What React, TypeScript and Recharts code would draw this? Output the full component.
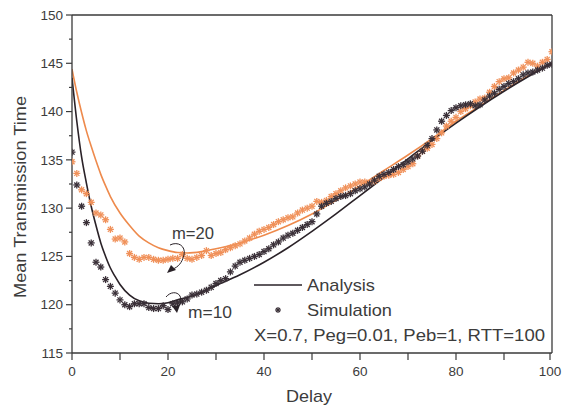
import React from 'react';
import { ComposedChart, Line, Scatter, XAxis, YAxis, ReferenceLine } from 'recharts';

if (typeof document !== 'undefined') {
  document.body.style.margin = '0';
}

// Analysis curves
const analysisDelays10 = [0, 1, 2, 3, 4, 5, 6, 7, 8, 9, 10, 12, 14, 16, 18, 20, 22, 25, 30, 35, 40, 45, 50, 55, 60, 65, 70, 75, 80, 85, 90, 95, 100];
const analysisM10 = [143.5, 139.0, 135.3, 132.6, 130.2, 128.2, 126.4, 125.0, 123.8, 122.9, 122.1, 121.0, 120.4, 120.15, 120.1, 120.2, 120.5, 120.9, 122.0, 123.1, 124.4, 125.9, 127.6, 129.4, 131.3, 133.2, 135.1, 137.0, 138.8, 140.5, 142.1, 143.6, 145.0];

const analysisDelays20 = [0, 1, 2, 3, 4, 5, 6, 7, 8, 10, 12, 14, 16, 18, 20, 22, 24, 27, 30, 35, 40, 45, 50, 55, 60, 65, 70, 75, 80, 85, 90, 95, 100];
const analysisM20 = [144.4, 142.0, 139.9, 138.0, 136.4, 134.9, 133.5, 132.3, 131.2, 129.5, 128.2, 127.1, 126.4, 125.9, 125.6, 125.4, 125.35, 125.5, 125.8, 126.4, 127.2, 128.2, 129.4, 130.8, 132.3, 133.9, 135.5, 137.2, 139.0, 140.6, 142.2, 143.7, 145.0];

// Simulation, one value per delay 0..100
const simDelays = Array.from({ length: 101 }, (_, i) => i);
const simM10 = [
  135.8, 132.4, 130.2, 128.5, 126.4, 124.4, 123.9, 122.6, 121.9, 121.2,
  120.5, 120.0, 119.8, 120.1, 120.1, 120.1, 119.7, 119.6, 119.6, 119.9,
  119.5, 120.1, 120.2, 120.3, 120.6, 121.0, 121.1, 121.3, 121.5, 121.8,
  122.2, 122.5, 122.7, 123.4, 124.0, 124.4, 124.6, 124.8, 125.0, 125.2,
  125.5, 125.8, 126.2, 126.5, 126.9, 127.2, 127.4, 127.7, 128.0, 128.3,
  128.6, 129.4, 130.2, 130.5, 130.7, 131.0, 131.2, 131.3, 131.5, 131.8,
  132.0, 132.2, 132.5, 132.9, 133.3, 133.5, 133.7, 134.0, 134.3, 134.5,
  134.8, 135.1, 135.4, 135.9, 136.5, 137.2, 138.1, 139.0, 139.6, 140.1,
  140.4, 140.6, 140.7, 140.8, 140.6, 140.7, 141.2, 141.6, 141.9, 142.3,
  142.6, 142.9, 143.1, 143.4, 143.8, 144.0, 144.1, 144.3, 144.5, 144.8,
  144.9,
];
const simM20 = [
  134.8, 133.6, 131.9, 131.5, 130.6, 129.5, 129.3, 128.8, 127.8, 126.8,
  126.9, 126.5, 125.3, 124.9, 124.7, 124.9, 124.9, 124.7, 124.6, 124.6,
  124.7, 124.8, 124.8, 125.2, 124.8, 124.7, 124.9, 125.1, 125.6, 125.1,
  125.3, 125.4, 125.7, 125.9, 126.1, 126.3, 126.6, 126.9, 127.3, 127.6,
  127.8, 128.0, 128.3, 128.6, 128.8, 129.0, 129.1, 129.5, 129.8, 130.0,
  130.2, 130.7, 130.6, 130.8, 131.2, 131.5, 131.8, 132.1, 132.3, 132.5,
  132.7, 132.7, 132.6, 132.8, 133.1, 133.3, 133.4, 133.5, 133.7, 134.0,
  134.3, 134.6, 135.4, 135.9, 136.2, 136.6, 137.2, 137.8, 138.5, 139.0,
  139.4, 140.0, 140.3, 140.6, 141.0, 141.3, 141.4, 142.0, 142.6, 143.1,
  143.4, 143.5, 144.0, 144.3, 144.6, 145.1, 145.0, 144.7, 145.1, 145.4,
  146.2,
];

const xTicks = [0, 10, 20, 30, 40, 50, 60, 70, 80, 90, 100];
const yTicks = [115, 117.5, 120, 122.5, 125, 127.5, 130, 132.5, 135, 137.5, 140, 142.5, 145, 147.5, 150];

const legendLabels = ['Analysis', 'Simulation'];
const paramText = 'X=0.7, Peg=0.01, Peb=1, RTT=100';
const xTitle = 'Delay';
const yTitle = 'Mean Transmission Time';
const mLabels = ['m=20', 'm=10'];

const DARK = '#2a2228';
const DARK_SIM = '#3a3038';
const ORANGE = '#ee8a4c';
const ORANGE_SIM = '#f0915a';
const AXIS = '#3a3a3a';
const TEXT = '#3c3c3c';
const FONT = "Arial, 'Liberation Sans', Helvetica, sans-serif";

const toPts = (xs: number[], ys: number[]) => xs.map((x, i) => ({ x, y: ys[i] }));
const a10 = toPts(analysisDelays10, analysisM10);
const a20 = toPts(analysisDelays20, analysisM20);
const s10 = toPts(simDelays, simM10);
const s20 = toPts(simDelays, simM20);

const makeStar = (color: string) => (props: any) => {
  const { cx, cy } = props;
  if (cx == null || cy == null) return <g />;
  const r = 3.5;
  const d = r * 0.72;
  return (
    <g stroke={color} strokeWidth={1.3}>
      <line x1={cx - r} y1={cy} x2={cx + r} y2={cy} />
      <line x1={cx} y1={cy - r} x2={cx} y2={cy + r} />
      <line x1={cx - d} y1={cy - d} x2={cx + d} y2={cy + d} />
      <line x1={cx - d} y1={cy + d} x2={cx + d} y2={cy - d} />
    </g>
  );
};

const YTick = (props: any) => {
  const { x, y, payload } = props;
  const major = payload.value % 5 === 0;
  return (
    <g>
      <line x1={x - (major ? 6 : 3)} y1={y} x2={x} y2={y} stroke={AXIS} strokeWidth={1.2} />
      {major && (
        <text x={x - 9} y={y} dy="0.35em" textAnchor="end" fontSize={13.5} fill={TEXT} fontFamily={FONT}>
          {payload.value}
        </text>
      )}
    </g>
  );
};

const XTick = (props: any) => {
  const { x, y, payload } = props;
  const major = payload.value % 20 === 0;
  return (
    <g>
      <line x1={x} y1={y} x2={x} y2={y + 7} stroke={AXIS} strokeWidth={1.2} />
      {major && (
        <text x={x} y={y + 18} dy="0.35em" textAnchor="middle" fontSize={13.5} fill={TEXT} fontFamily={FONT}>
          {payload.value}
        </text>
      )}
    </g>
  );
};

const Dark = makeStar(DARK_SIM);
const Orange = makeStar(ORANGE_SIM);

export default function App() {
  return (
    <div style={{ position: 'relative', width: 562, height: 407, background: '#fff' }}>
      <ComposedChart width={562} height={407} margin={{ top: 15, right: 10, bottom: 0, left: 0 }}>
        <XAxis
          dataKey="x"
          type="number"
          domain={[0, 100]}
          ticks={xTicks}
          tick={<XTick />}
          tickLine={false}
          tickSize={0}
          tickMargin={0}
          height={54}
          axisLine={{ stroke: AXIS, strokeWidth: 1.3 }}
          allowDataOverflow
        />
        <YAxis
          dataKey="y"
          type="number"
          domain={[115, 150]}
          ticks={yTicks}
          tick={<YTick />}
          tickLine={false}
          tickSize={0}
          tickMargin={0}
          width={72}
          interval={0}
          axisLine={{ stroke: AXIS, strokeWidth: 1.3 }}
          allowDataOverflow
        />
        <ReferenceLine y={150} stroke={AXIS} strokeWidth={1.3} />
        <ReferenceLine x={100} stroke={AXIS} strokeWidth={1.3} />
        <Line data={a20} dataKey="y" type="monotone" stroke={ORANGE} strokeWidth={1.6} dot={false} isAnimationActive={false} />
        <Line data={a10} dataKey="y" type="monotone" stroke={DARK} strokeWidth={1.6} dot={false} isAnimationActive={false} />
        <Scatter data={s20} dataKey="y" shape={<Orange />} isAnimationActive={false} />
        <Scatter data={s10} dataKey="y" shape={<Dark />} isAnimationActive={false} />
      </ComposedChart>
      <svg
        width={562}
        height={407}
        style={{ position: 'absolute', left: 0, top: 0, pointerEvents: 'none' }}
        fontFamily={FONT}
      >
        <text x={286} y={396} dy="0.35em" fontSize={17} fill={TEXT} textLength={46} lengthAdjust="spacingAndGlyphs">{xTitle}</text>
        <text
          x={20}
          y={298}
          dy="0.35em"
          fontSize={17}
          fill={TEXT}
          textLength={202}
          lengthAdjust="spacingAndGlyphs"
          transform="rotate(-90 20 298)"
        >
          {yTitle}
        </text>
        {/* legend */}
        <line x1={254} y1={285} x2={302} y2={285} stroke={DARK} strokeWidth={1.6} />
        <text x={307} y={285} dy="0.35em" fontSize={17} fill={TEXT} textLength={68} lengthAdjust="spacingAndGlyphs">{legendLabels[0]}</text>
        <g stroke={DARK_SIM} strokeWidth={1.2}>
          <line x1={275} y1={310} x2={281} y2={310} />
          <line x1={278} y1={307} x2={278} y2={313} />
          <line x1={276} y1={308} x2={280} y2={312} />
          <line x1={276} y1={312} x2={280} y2={308} />
        </g>
        <text x={307} y={310} dy="0.35em" fontSize={17} fill={TEXT} textLength={85} lengthAdjust="spacingAndGlyphs">{legendLabels[1]}</text>
        <text x={254} y={335} dy="0.35em" fontSize={17} fill={TEXT} textLength={291} lengthAdjust="spacingAndGlyphs">{paramText}</text>
        {/* annotations */}
        <text x={172} y={233} dy="0.35em" fontSize={17} fill={TEXT} textLength={42} lengthAdjust="spacingAndGlyphs">{mLabels[0]}</text>
        <path d="M170,245 C178,241 186,246 184,255 C182,263 178,267 173,269" fill="none" stroke={DARK} strokeWidth={1} />
        <polygon points="167,273 171,265 176,270" fill={DARK} />
        <text x={188} y={312} dy="0.35em" fontSize={17} fill={TEXT} textLength={44} lengthAdjust="spacingAndGlyphs">{mLabels[1]}</text>
        <path d="M166,297 C170,292 177,291 180,296 C182,301 180,305 177,307" fill="none" stroke={DARK} strokeWidth={1} />
        <polygon points="177,313 172,306 180,305" fill={DARK} />
      </svg>
    </div>
  );
}
